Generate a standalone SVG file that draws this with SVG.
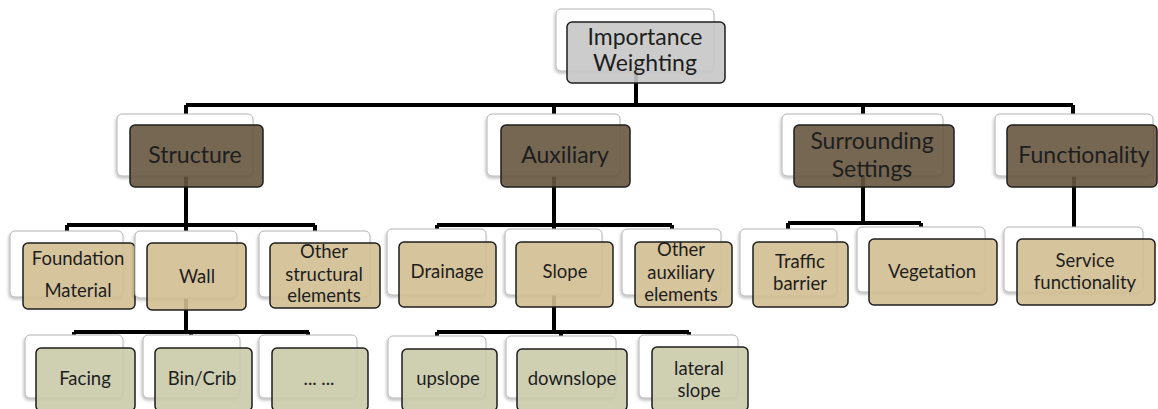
<svg xmlns="http://www.w3.org/2000/svg" width="1158" height="409" viewBox="0 0 1158 409">
<defs>
<filter id="sh" x="-10%" y="-10%" width="120%" height="130%">
<feDropShadow dx="-1" dy="2" stdDeviation="1.5" flood-color="#000" flood-opacity="0.25"/>
</filter>
</defs>
<style>
.bk{fill:#fff;stroke:#b4b4b4;stroke-width:1;filter:url(#sh)}
.fr{stroke:#1e1e1e;stroke-width:1.5;fill-opacity:0.9}
.g{fill:#c6c6c6}
.b{fill:#67563f}
.t{fill:#d2be91}
.o{fill:#cacaaa}
text{font-family:Lato,"Liberation Sans",sans-serif;fill:#1e1e1e;text-anchor:middle}
.l1{font-size:23px}
.l2{font-size:18.5px}
.c{fill:none;stroke:#000;stroke-width:4}
</style>
<g id="connectors">
<path class="c" d="M636 40V105M186 105H1073M186 105V150M554 105V150M863 105V150M1073 105V150"/>
<path class="c" d="M186 150V225M67 225H315M67 225V250M315 225V250M186 225V265"/>
<path class="c" d="M186 265V332M74 332H309M74 332V350M191 332V350M308 332V350"/>
<path class="c" d="M554 150V225M437 225H672M437 225V250M672 225V250M554 225V265"/>
<path class="c" d="M554 265V332M437 332H689M437 332V350M561 332V350M689 332V350"/>
<path class="c" d="M863 150V223M788 223H921M788 223V250M921 223V250"/>
<path class="c" d="M1074 150V250"/>
</g>
<g id="importance">
<rect class="bk" x="556" y="9" width="158" height="62" rx="5"/>
<rect class="fr g" x="567" y="22" width="158" height="61" rx="5"/>
<text class="l1" x="645" y="45">Importance</text>
<text class="l1" x="645" y="71">Weighting</text>
</g>
<g id="structure">
<rect class="bk" x="117" y="114" width="136" height="62" rx="5"/>
<rect class="fr b" x="130" y="125" width="133" height="62" rx="5"/>
<text class="l1" x="195" y="163">Structure</text>
</g>
<g id="auxiliary">
<rect class="bk" x="487" y="114" width="133" height="62" rx="5"/>
<rect class="fr b" x="501" y="125" width="129" height="62" rx="5"/>
<text class="l1" x="565" y="163">Auxiliary</text>
</g>
<g id="surrounding">
<rect class="bk" x="782" y="114" width="161" height="62" rx="5"/>
<rect class="fr b" x="794" y="125" width="160" height="62" rx="5"/>
<text class="l1" x="872" y="149">Surrounding</text>
<text class="l1" x="872" y="177">Settings</text>
</g>
<g id="functionality">
<rect class="bk" x="995" y="114" width="158" height="62" rx="5"/>
<rect class="fr b" x="1007" y="125" width="150" height="62" rx="5"/>
<text class="l1" x="1084" y="163">Functionality</text>
</g>
<g id="foundation">
<rect class="bk" x="10" y="231" width="113" height="66" rx="5"/>
<rect class="fr t" x="23" y="243" width="112" height="66" rx="5"/>
<text class="l2" x="78" y="265">Foundation</text>
<text class="l2" x="78" y="297">Material</text>
</g>
<g id="wall">
<rect class="bk" x="135" y="231" width="102" height="67" rx="5"/>
<rect class="fr t" x="147" y="243" width="99" height="67" rx="5"/>
<text class="l2" x="197" y="283">Wall</text>
</g>
<g id="other-structural">
<rect class="bk" x="259" y="231" width="111" height="66" rx="5"/>
<rect class="fr t" x="270" y="243" width="110" height="65" rx="5"/>
<text class="l2" x="324" y="258">Other</text>
<text class="l2" x="324" y="281">structural</text>
<text class="l2" x="324" y="302">elements</text>
</g>
<g id="drainage">
<rect class="bk" x="387" y="229" width="99" height="66" rx="5"/>
<rect class="fr t" x="399" y="242" width="97" height="65" rx="5"/>
<text class="l2" x="447" y="278">Drainage</text>
</g>
<g id="slope">
<rect class="bk" x="505" y="229" width="97" height="66" rx="5"/>
<rect class="fr t" x="516" y="242" width="97" height="65" rx="5"/>
<text class="l2" x="565" y="278">Slope</text>
</g>
<g id="other-auxiliary">
<rect class="bk" x="622" y="229" width="99" height="66" rx="5"/>
<rect class="fr t" x="635" y="242" width="97" height="65" rx="5"/>
<text class="l2" x="681" y="256">Other</text>
<text class="l2" x="681" y="279">auxiliary</text>
<text class="l2" x="681" y="301">elements</text>
</g>
<g id="traffic">
<rect class="bk" x="740" y="229" width="97" height="67" rx="5"/>
<rect class="fr t" x="753" y="242" width="95" height="65" rx="5"/>
<text class="l2" x="800" y="268">Traffic</text>
<text class="l2" x="800" y="290">barrier</text>
</g>
<g id="vegetation">
<rect class="bk" x="857" y="227" width="128" height="65" rx="5"/>
<rect class="fr t" x="869" y="239" width="128" height="66" rx="5"/>
<text class="l2" x="932" y="278">Vegetation</text>
</g>
<g id="service">
<rect class="bk" x="1004" y="227" width="139" height="65" rx="5"/>
<rect class="fr t" x="1017" y="239" width="138" height="66" rx="5"/>
<text class="l2" x="1085" y="267">Service</text>
<text class="l2" x="1085" y="289">functionality</text>
</g>
<g id="facing">
<rect class="bk" x="25" y="335" width="98" height="63" rx="5"/>
<rect class="fr o" x="36" y="348" width="99" height="63" rx="5"/>
<text class="l2" x="85" y="385">Facing</text>
</g>
<g id="bincrib">
<rect class="bk" x="143" y="335" width="97" height="63" rx="5"/>
<rect class="fr o" x="155" y="348" width="97" height="63" rx="5"/>
<text class="l2" x="202" y="385">Bin/Crib</text>
</g>
<g id="dots">
<rect class="bk" x="259" y="335" width="98" height="63" rx="5"/>
<rect class="fr o" x="272" y="348" width="96" height="63" rx="5"/>
<text class="l2" x="319" y="385">... ...</text>
</g>
<g id="upslope">
<rect class="bk" x="388" y="336" width="98" height="62" rx="5"/>
<rect class="fr o" x="402" y="349" width="95" height="62" rx="5"/>
<text class="l2" x="448" y="385">upslope</text>
</g>
<g id="downslope">
<rect class="bk" x="506" y="336" width="110" height="62" rx="5"/>
<rect class="fr o" x="517" y="349" width="110" height="62" rx="5"/>
<text class="l2" x="572" y="385">downslope</text>
</g>
<g id="lateral">
<rect class="bk" x="639" y="335" width="99" height="63" rx="5"/>
<rect class="fr o" x="652" y="347" width="96" height="64" rx="5"/>
<text class="l2" x="699" y="375">lateral</text>
<text class="l2" x="699" y="397">slope</text>
</g>
</svg>
